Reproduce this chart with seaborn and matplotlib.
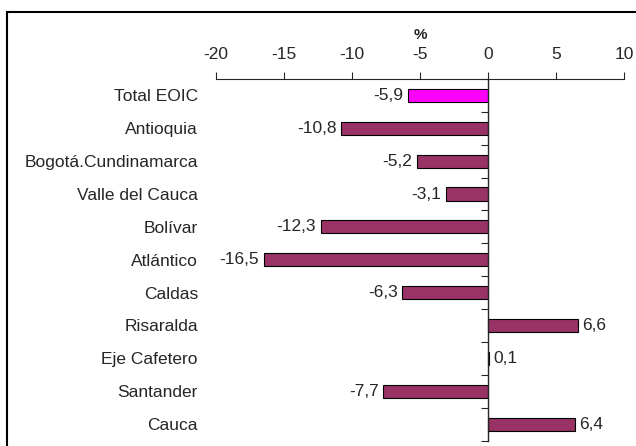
import numpy as np
import matplotlib
matplotlib.use("Agg")
import matplotlib.pyplot as plt
import seaborn as sns
import pandas as pd
from matplotlib.patches import Rectangle

regions = ["Total EOIC", "Antioquia", "Bogotá.Cundinamarca", "Valle del Cauca",
           "Bolívar", "Atlántico", "Caldas", "Risaralda", "Eje Cafetero",
           "Santander", "Cauca"]
values = [-5.9, -10.8, -5.2, -3.1, -12.3, -16.5, -6.3, 6.6, 0.1, -7.7, 6.4]
x_ticks = [-20, -15, -10, -5, 0, 5, 10]

def plotChart():
    sns.set_style("white")
    plt.rcParams['font.family'] = ['Liberation Sans', 'DejaVu Sans']
    fs = 12.5

    df = pd.DataFrame({'Region': regions, 'Valor': values})
    pal = {r: "#993366" for r in regions}
    pal["Total EOIC"] = "#FF00FF"

    fig = plt.figure(figsize=(6.36, 4.46), dpi=100)
    ax = fig.add_axes([0.3396, 0.0123, 0.6415, 0.8106])

    sns.barplot(data=df, x='Valor', y='Region', hue='Region', palette=pal,
                orient='h', width=0.4, edgecolor='black', linewidth=0.8,
                saturation=1, legend=False, ax=ax)

    ax.set_xlim(-20, 10)
    ax.set_ylim(len(regions) - 0.5, -0.5)
    ax.xaxis.tick_top()
    ax.xaxis.set_label_position('top')
    ax.set_xticks(x_ticks)
    ax.set_xticklabels([str(t) for t in x_ticks])
    ax.set_xlabel("%", fontsize=11, fontweight='bold', labelpad=6)
    ax.set_ylabel("")
    ax.tick_params(axis='x', direction='out', length=5, width=0.8,
                   pad=7, labelsize=fs, top=True, bottom=False)
    ax.tick_params(axis='y', length=0, pad=13, labelsize=fs)
    for s in ['left', 'right', 'bottom']:
        ax.spines[s].set_visible(False)
    ax.spines['top'].set_linewidth(0.8)

    # vertical axis at zero with ticks between categories
    ax2 = ax.twinx()
    ax2.set_ylim(ax.get_ylim())
    ax2.set_yticks(np.arange(-0.5, len(regions), 1))
    ax2.set_yticklabels([])
    for s in ['left', 'top', 'bottom']:
        ax2.spines[s].set_visible(False)
    ax2.spines['right'].set_position(('data', 0))
    ax2.spines['right'].set_linewidth(1.0)
    ax2.tick_params(axis='y', direction='in', length=5, width=0.8)

    for i, v in enumerate(values):
        lab = f"{v:.1f}".replace(".", ",")
        if v < 0:
            ax.text(v - 0.35, i, lab, ha='right', va='center', fontsize=fs)
        else:
            ax.text(v + 0.3, i, lab, ha='left', va='center', fontsize=fs)

    fig.patches.append(Rectangle((0.011, -0.05), 1.0, 1.0229, transform=fig.transFigure,
                                 fill=False, edgecolor='black', linewidth=1.5))

    fig.savefig("out.png", dpi=100)

if __name__ == "__main__":
    plotChart()
